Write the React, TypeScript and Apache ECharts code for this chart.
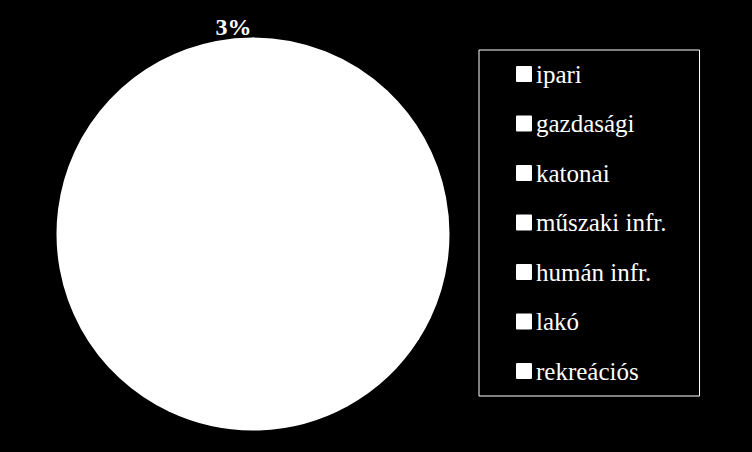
import React, { useEffect, useRef } from "react";
import * as echarts from "echarts";

const categories = ["ipari", "gazdasági", "katonai", "műszaki infr.", "humán infr.", "lakó", "rekreációs"];
const values = [12, 20, 2, 8, 15, 40, 3];
const labelledCategory = "rekreációs";

const serif = '"Liberation Serif", "Times New Roman", Times, "DejaVu Serif", serif';

export default function App() {
  const ref = useRef<HTMLDivElement>(null);
  useEffect(() => {
    document.body.style.margin = "0";
    document.body.style.background = "#000";
    const chart = echarts.init(ref.current!, null, { renderer: "svg" });
    const data = categories.map((name, i) => ({
      name,
      value: values[i],
      label: { show: name === labelledCategory },
    }));
    chart.setOption({
      animation: false,
      backgroundColor: "#000",
      legend: {
        orient: "vertical",
        left: 479,
        top: 50,
        padding: [11.5, 33, 12.5, 37],
        borderColor: "#fff",
        borderWidth: 1,
        itemWidth: 14,
        itemHeight: 14,
        itemGap: 24.5,
        icon: "rect",
        textStyle: {
          color: "#fff",
          fontFamily: serif,
          fontSize: 25,
          lineHeight: 25,
        },
        data: categories,
      },
      series: [
        {
          type: "pie",
          center: [253, 234],
          radius: 195.5,
          startAngle: 90,
          clockwise: true,
          percentPrecision: 0,
          itemStyle: { color: "#fff", borderColor: "#fff", borderWidth: 2, borderJoin: "round" },
          emphasis: { disabled: true },
          label: {
            show: false,
            position: "outside",
            formatter: "{d}%",
            color: "#fff",
            fontFamily: serif,
            fontWeight: "bold",
            fontSize: 24,
            distanceToLabelLine: 0,
          },
          labelLine: { show: false, length: 12, length2: 0 },
          labelLayout: { align: "center" },
          data,
        },
      ],
    });
    return () => chart.dispose();
  }, []);
  return <div ref={ref} style={{ width: 752, height: 452, fontFamily: serif }} />;
}
